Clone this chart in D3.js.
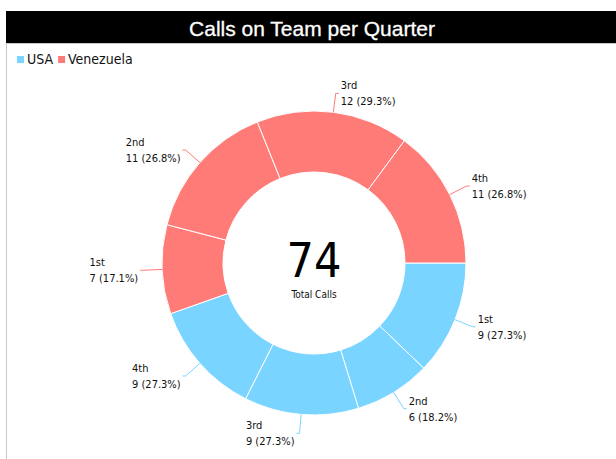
<!DOCTYPE html>
<html>
<head>
<meta charset="utf-8">
<script src="https://cdn.jsdelivr.net/npm/d3@7"></script>
<style>
  body { margin: 0; background: #fff; }
  svg { display: block; }
  .lbl { font-family: "DejaVu Sans Condensed", "DejaVu Sans", sans-serif; font-size: 11px; fill: #111; }
</style>
</head>
<body>
<div id="chart"></div>
<script>
// chart values
const teams = ['USA', 'Venezuela'];
const quarters = ['1st', '2nd', '3rd', '4th'];
const usaCalls = [9, 6, 9, 9];
const venezuelaCalls = [7, 11, 12, 11];
const teamColors = ['#79d5ff', '#ff7b77'];
const chartTitle = 'Calls on Team per Quarter';
const centerLabel = 'Total Calls';

const width = 616;
const height = 459;
const cx = 314;
const cy = 263;
const outerR = 152;
const innerR = 91;

const svg = d3.select('#chart').append('svg')
  .attr('width', width)
  .attr('height', height);

// frame + title bar
svg.append('line')
  .attr('x1', 6.5).attr('x2', 6.5)
  .attr('y1', 11).attr('y2', height)
  .attr('stroke', '#c8c8c8');
svg.append('rect')
  .attr('x', 6).attr('y', 11)
  .attr('width', width).attr('height', 32)
  .attr('fill', '#000');
svg.append('line')
  .attr('x1', 6).attr('x2', width)
  .attr('y1', 43.5).attr('y2', 43.5)
  .attr('stroke', '#c8c8c8');
svg.append('text')
  .attr('x', 312).attr('y', 36)
  .attr('text-anchor', 'middle')
  .attr('fill', '#fff')
  .attr('stroke', '#fff')
  .attr('stroke-width', 0.3)
  .attr('font-family', '"Liberation Sans", Arial, sans-serif')
  .attr('font-size', 21)
  .text(chartTitle);

// legend
const legend = svg.append('g').attr('transform', 'translate(17, 56)');
let lx = 0;
teams.forEach((t, i) => {
  legend.append('rect')
    .attr('x', lx).attr('y', 0)
    .attr('width', 7).attr('height', 7)
    .attr('fill', teamColors[i]);
  const txt = legend.append('text')
    .attr('class', 'lbl')
    .attr('x', lx + 10).attr('y', 8)
    .style('font-size', '14px')
    .text(t);
  lx += 10 + txt.node().getComputedTextLength() + 5;
});

// slice data: USA quarters then Venezuela quarters
const seriesByTeam = [usaCalls, venezuelaCalls];
const slices = [];
teams.forEach((t, ti) => {
  const teamTotal = d3.sum(seriesByTeam[ti]);
  quarters.forEach((q, qi) => {
    slices.push({
      team: t, teamIndex: ti, quarter: q,
      value: seriesByTeam[ti][qi],
      pct: seriesByTeam[ti][qi] / teamTotal,
    });
  });
});
const total = d3.sum(slices, (d) => d.value);

const pie = d3.pie()
  .value((d) => d.value)
  .sort(null)
  .startAngle(Math.PI / 2)
  .endAngle(Math.PI / 2 + 2 * Math.PI);

const arc = d3.arc().innerRadius(innerR).outerRadius(outerR);
const arcs = pie(slices);

const g = svg.append('g').attr('transform', `translate(${cx},${cy})`);

g.selectAll('.slice')
  .data(arcs)
  .enter()
  .append('path')
  .attr('class', 'slice')
  .attr('d', arc)
  .attr('fill', (d) => teamColors[d.data.teamIndex])
  .attr('stroke', '#fff')
  .attr('stroke-width', 1);

// labels with leader lines
const lineLen = 19;
arcs.forEach((d) => {
  const a = (d.startAngle + d.endAngle) / 2;
  const sx = Math.sin(a);
  const sy = -Math.cos(a);
  const x0 = sx * outerR;
  const y0 = sy * outerR;
  const x1 = sx * (outerR + lineLen);
  const y1 = sy * (outerR + lineLen);
  const right = sx >= 0;
  const x2 = x1 + (right ? 3 : -3);

  g.append('polyline')
    .attr('points', `${x0},${y0} ${x1},${y1} ${x2},${y1}`)
    .attr('fill', 'none')
    .attr('stroke', teamColors[d.data.teamIndex])
    .attr('stroke-width', 1);

  const label = g.append('text').attr('class', 'lbl');
  label.append('tspan').attr('x', 0).attr('y', y1 - 4).text(d.data.quarter);
  label.append('tspan').attr('x', 0).attr('y', y1 + 12)
    .text(`${d.data.value} (${(d.data.pct * 100).toFixed(1)}%)`);
  const w = d3.max(label.selectAll('tspan').nodes(), (n) => n.getComputedTextLength());
  const tx = right ? x2 + 2 : x2 - 2 - w;
  label.selectAll('tspan').attr('x', tx);
});

// center total
g.append('text')
  .attr('x', 0).attr('y', 14)
  .attr('text-anchor', 'middle')
  .attr('font-family', '"DejaVu Sans Condensed", "DejaVu Sans", sans-serif')
  .attr('font-size', 48)
  .attr('fill', '#000')
  .text(total);
g.append('text')
  .attr('class', 'lbl')
  .attr('x', 0).attr('y', 35)
  .attr('text-anchor', 'middle')
  .style('font-size', '10px')
  .text(centerLabel);
</script>
</body>
</html>
